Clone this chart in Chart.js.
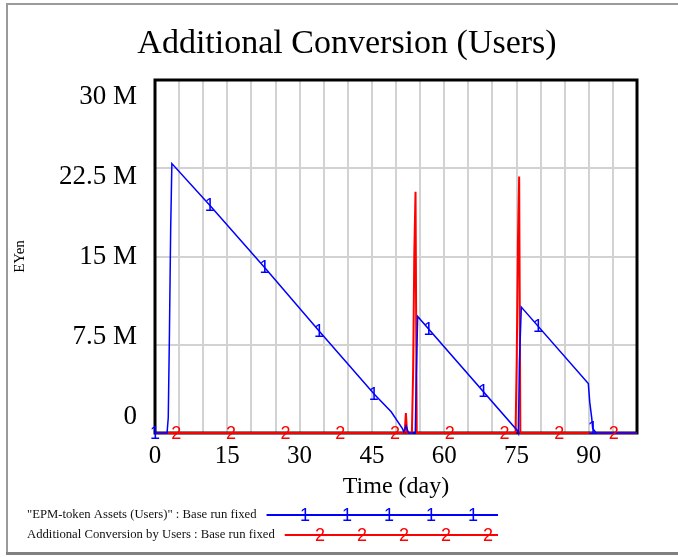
<!DOCTYPE html>
<html><head><meta charset="utf-8">
<script src="https://cdn.jsdelivr.net/npm/chart.js@4/dist/chart.umd.min.js"></script>
<style>html,body{margin:0;padding:0;background:#fff;overflow:hidden}canvas{display:block}</style>
</head><body>
<canvas id="c" width="678" height="557"></canvas>
<script>
// ---- data (values in millions) ----
const chartTitle = 'Additional Conversion (Users)';
const xAxisTitle = 'Time (day)';
const yAxisTitle = 'EYen';
const xTickValues = [0, 15, 30, 45, 60, 75, 90];
const yTickLabels = ['0', '7.5 M', '15 M', '22.5 M', '30 M'];
const seriesLabels = ['"EPM-token Assets (Users)" : Base run fixed', 'Additional Conversion by Users : Base run fixed'];
const seriesMarks = ['1', '2'];
const seriesColors = ['#0000ff', '#ff0000'];

const assetDays   = [0, 2.5, 2.75, 3.0, 3.25, 3.5, 11.5, 23.1, 34.4, 45.5, 49.0, 51.3, 51.6, 52.1, 52.6, 54.0, 54.2, 54.5, 75.2, 75.4, 75.6, 76.0, 89.9, 90.2, 90.6, 90.8, 91.5, 100];
const assetValues = [0, 0, 1.3, 8.6, 17.3, 22.9, 19.3, 13.9, 8.5, 3.3, 1.8, 0.4, 0.1, 0.6, 0, 0, 4.8, 9.9, 0.2, 0, 6.0, 10.7, 4.2, 2.6, 1.3, 0.4, 0, 0];

const convDays   = [0, 51.8, 52.05, 52.3, 53.3, 53.55, 53.8, 54.05, 54.3, 74.8, 75.05, 75.3, 75.55, 75.8, 100];
const convValues = [0, 0, 1.7, 0, 0, 5.2, 15.3, 20.5, 0, 0, 6.2, 16.3, 21.8, 0, 0];

const assetMarkDays = [0, 11.35, 22.7, 34.05, 45.4, 56.75, 68.1, 79.45, 90.8];
const convMarkDays  = [4.4, 15.75, 27.1, 38.45, 49.8, 61.15, 72.5, 83.85, 95.2];

// ---- helpers ----
const toPoints = (xs, ys) => xs.map((x, i) => ({x: x, y: ys[i]}));
function valueAt(xs, ys, d) {
  for (let i = 1; i < xs.length; i++) {
    if (d <= xs[i]) {
      const t = (d - xs[i-1]) / ((xs[i] - xs[i-1]) || 1);
      return ys[i-1] + t * (ys[i] - ys[i-1]);
    }
  }
  return ys[ys.length - 1];
}
const SERIF = '"Liberation Serif", "Times New Roman", serif';
const SANS = '"Liberation Sans", Arial, sans-serif';

const framePlugin = {
  id: 'frame',
  beforeDraw(chart) {
    const c = chart.ctx;
    c.save();
    c.fillStyle = '#fff';
    c.fillRect(0, 0, chart.width, chart.height);
    c.strokeStyle = '#9a9a9a';
    c.lineWidth = 2;
    c.beginPath();
    c.moveTo(7, chart.height - 3); c.lineTo(7, 4); c.lineTo(chart.width, 4);
    c.stroke();
    c.strokeStyle = '#808080';
    c.lineWidth = 3;
    c.beginPath();
    c.moveTo(6, chart.height - 3.5); c.lineTo(chart.width, chart.height - 3.5);
    c.stroke();
    c.restore();
  }
};

const boxPlugin = {
  id: 'box',
  beforeDatasetsDraw(chart) {
    const a = chart.chartArea, c = chart.ctx;
    c.save();
    c.strokeStyle = '#000';
    c.lineWidth = 3;
    c.strokeRect(a.left, a.top, a.right - a.left, a.bottom - a.top);
    c.restore();
  }
};

const markPlugin = {
  id: 'marks',
  afterDatasetsDraw(chart) {
    const c = chart.ctx, xs = chart.scales.x, ys = chart.scales.y;
    const sets = [[assetDays, assetValues, assetMarkDays], [convDays, convValues, convMarkDays]];
    c.save();
    c.font = '18px ' + SANS;
    c.textAlign = 'center';
    c.textBaseline = 'middle';
    sets.forEach((s, k) => {
      c.fillStyle = seriesColors[k];
      s[2].forEach(d => {
        const v = valueAt(s[0], s[1], d);
        c.fillText(seriesMarks[k], xs.getPixelForValue(d), ys.getPixelForValue(v) + 1);
      });
    });
    c.restore();
  }
};

const legendPlugin = {
  id: 'vlegend',
  afterDraw(chart) {
    const c = chart.ctx;
    const rows = [515, 535];
    const lineEnd = 498;
    const lastMark = [473, 488];
    c.save();
    seriesLabels.forEach((lab, k) => {
      const y = rows[k];
      c.font = '12.7px ' + SERIF;
      c.fillStyle = '#111';
      c.textAlign = 'left';
      c.textBaseline = 'middle';
      c.fillText(lab, 27, y);
      const w = c.measureText(lab).width;
      const x0 = 27 + w + 10;
      c.strokeStyle = seriesColors[k];
      c.lineWidth = 2;
      c.beginPath(); c.moveTo(x0, y); c.lineTo(lineEnd, y); c.stroke();
      c.font = '18px ' + SANS;
      c.fillStyle = seriesColors[k];
      c.textAlign = 'center';
      for (let i = 0; i < 5; i++) c.fillText(seriesMarks[k], lastMark[k] - i * 42, y + 1);
    });
    c.restore();
  }
};

new Chart(document.getElementById('c'), {
  type: 'line',
  data: {
    datasets: [
      {label: seriesLabels[0], data: toPoints(assetDays, assetValues), borderColor: seriesColors[0], borderWidth: 1.5, pointRadius: 0, tension: 0, clip: 6},
      {label: seriesLabels[1], data: toPoints(convDays, convValues), borderColor: seriesColors[1], borderWidth: 2, pointRadius: 0, tension: 0, clip: 6}
    ]
  },
  options: {
    responsive: false,
    animation: false,
    devicePixelRatio: 1,
    layout: {padding: {left: 57, right: 41, top: 0, bottom: 0}},
    plugins: {
      legend: {display: false},
      tooltip: {enabled: false},
      title: {display: true, text: chartTitle, color: '#000', font: {family: SERIF, size: 34, weight: 'normal'}, padding: {top: 23.5, bottom: 15.7}}
    },
    scales: {
      x: {
        type: 'linear', min: 0, max: 100,
        grid: {color: '#d2d2d2', lineWidth: 2, drawTicks: false},
        border: {display: false},
        ticks: {stepSize: 5, autoSkip: false, maxRotation: 0, padding: 8, color: '#000', font: {family: SERIF, size: 25},
          callback: v => xTickValues.includes(v) ? String(v) : ''},
        title: {display: true, text: xAxisTitle, color: '#000', font: {family: SERIF, size: 24}, padding: {top: 0, bottom: 55.6}},
        afterFit: s => { s.height = 124; }
      },
      y: {
        type: 'linear', position: 'left', min: 0, max: 30,
        grid: {color: '#d2d2d2', lineWidth: 2, drawTicks: false},
        border: {display: false},
        ticks: {display: false, stepSize: 7.5},
        afterFit: s => { s.width = 0; }
      },
      yl: {
        type: 'linear', position: 'left', min: -0.2, max: 4.2125,
        grid: {display: false, drawTicks: false},
        border: {display: false},
        ticks: {autoSkip: false, padding: 18, color: '#000', font: {family: SERIF, size: 27},
          callback: v => yTickLabels[v] !== undefined ? yTickLabels[v] : ''},
        afterBuildTicks: s => { s.ticks = yTickLabels.map((_, i) => ({value: i})); },
        title: {display: true, text: yAxisTitle, color: '#000', font: {family: SERIF, size: 15}, padding: {top: -46, bottom: 0}},
        afterFit: s => { s.width = 98; }
      }
    }
  },
  plugins: [framePlugin, boxPlugin, markPlugin, legendPlugin]
});
</script>
</body></html>
